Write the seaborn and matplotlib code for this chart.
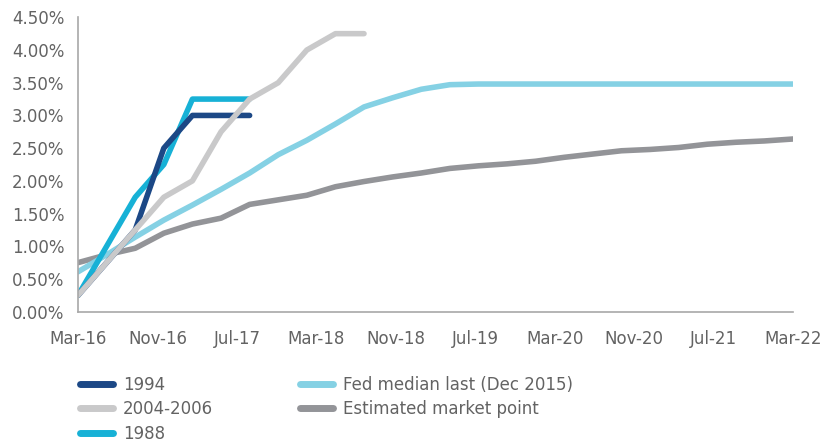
import numpy as np
import pandas as pd
import matplotlib
matplotlib.use("Agg")
import matplotlib.pyplot as plt
import seaborn as sns
from matplotlib.ticker import FuncFormatter

# x: months since Mar-16, 26 observation points
months = list(np.linspace(0, 72, 26))

hike_1994 = [0.25, 0.75, 1.25, 2.50, 3.00, 3.00, 3.00]
hike_2004 = [0.25, 0.75, 1.25, 1.75, 2.00, 2.75, 3.25, 3.50, 4.00, 4.25, 4.25]
hike_1988 = [0.25, 1.00, 1.75, 2.25, 3.25, 3.25, 3.25]
fed_median = [0.61, 0.87, 1.14, 1.40, 1.63, 1.87, 2.12, 2.40, 2.62, 2.87, 3.13, 3.27,
              3.40, 3.47, 3.48, 3.48, 3.48, 3.48, 3.48, 3.48, 3.48, 3.48, 3.48, 3.48,
              3.48, 3.48]
market = [0.75, 0.87, 0.97, 1.20, 1.34, 1.43, 1.64, 1.71, 1.78, 1.91, 1.99, 2.06,
          2.12, 2.19, 2.23, 2.26, 2.30, 2.36, 2.41, 2.46, 2.48, 2.51, 2.56, 2.59,
          2.61, 2.64]

tick_months = [0, 8, 16, 24, 32, 40, 48, 56, 64, 72]
tick_labels = ["Mar-16", "Nov-16", "Jul-17", "Mar-18", "Nov-18", "Jul-19",
               "Mar-20", "Nov-20", "Jul-21", "Mar-22"]

series = {
    "1994": (hike_1994, "#1c4886"),
    "2004-2006": (hike_2004, "#c9c9ca"),
    "1988": (hike_1988, "#17b1d6"),
    "Fed median last (Dec 2015)": (fed_median, "#85d1e4"),
    "Estimated market point": (market, "#939498"),
}
legend_order = ["1994", "2004-2006", "1988", "Fed median last (Dec 2015)", "Estimated market point"]
draw_order = ["Estimated market point", "Fed median last (Dec 2015)", "1988", "1994", "2004-2006"]

sns.set_style("white")
plt.rcParams["font.family"] = ["DejaVu Sans"]
text_col = "#636363"
axis_col = "#a8a8a8"

fig = plt.figure(figsize=(8.23, 4.46), dpi=100)
ax = fig.add_axes([0.0948, 0.3011, 0.8688, 0.6601])

for name in draw_order:
    vals, col = series[name]
    df = pd.DataFrame({"x": months[:len(vals)], "y": np.array(vals) / 100})
    sns.lineplot(data=df, x="x", y="y", ax=ax, color=col, linewidth=4, label=name,
                 solid_capstyle="round", solid_joinstyle="round")

ax.set_xlim(0, 72)
ax.set_ylim(0, 0.045)
ax.set_yticks(np.arange(0, 0.0451, 0.005))
ax.yaxis.set_major_formatter(FuncFormatter(lambda v, p: f"{v * 100:.2f}%"))
ax.set_xticks(tick_months)
ax.set_xticklabels(tick_labels)
ax.set_xlabel("")
ax.set_ylabel("")

for s in ["top", "right"]:
    ax.spines[s].set_visible(False)
for s in ["left", "bottom"]:
    ax.spines[s].set_color(axis_col)
    ax.spines[s].set_linewidth(1.2)
ax.tick_params(axis="both", colors=axis_col, labelcolor=text_col, labelsize=12,
               length=4, width=1.2, direction="out")
ax.tick_params(axis="x", pad=9)
ax.tick_params(axis="y", pad=6)

# legend below the plot, two columns
handles, labels = ax.get_legend_handles_labels()
hmap = dict(zip(labels, handles))
ax.get_legend().remove()
leg = fig.legend([hmap[n] for n in legend_order], legend_order, ncol=2,
                 loc="upper left", bbox_to_anchor=(0.097, 0.158),
                 frameon=False, fontsize=12, borderpad=0, borderaxespad=0,
                 handlelength=2.0, handletextpad=0.6, columnspacing=5.2,
                 labelspacing=0.4, labelcolor=text_col)
for line in leg.get_lines():
    line.set_linewidth(5)
    line.set_solid_capstyle("round")

fig.savefig("out.png", dpi=100)
